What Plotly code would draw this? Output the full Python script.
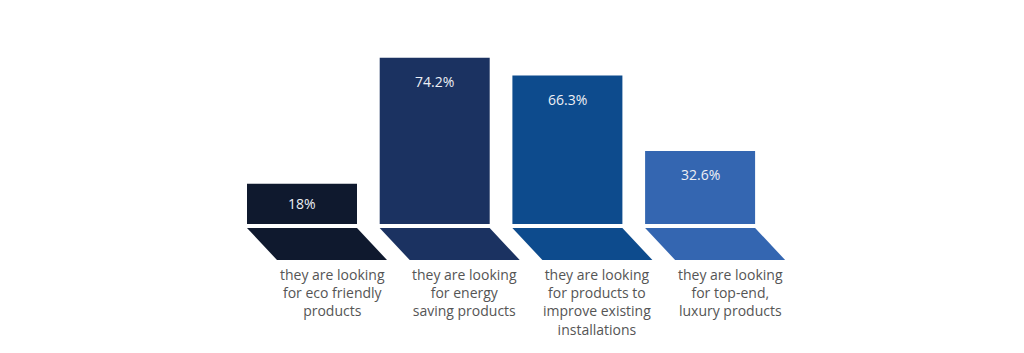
import plotly.graph_objects as go

categories = [
    "they are looking<br>for eco friendly<br>products",
    "they are looking<br>for energy<br>saving products",
    "they are looking<br>for products to<br>improve existing<br>installations",
    "they are looking<br>for top-end,<br>luxury products",
]
values = [18, 74.2, 66.3, 32.6]
value_labels = ["18%", "74.2%", "66.3%", "32.6%"]
colors = ["#0f192e", "#1b3261", "#0d4b8d", "#3466b1"]

W, H = 1024, 353
PX_PER_UNIT_X = 132.7
PX_PER_UNIT_Y = 2.24
FIRST_CENTER_PX = 302
BASE_PX = 224
BAR_W = 110 / PX_PER_UNIT_X
SHIFT = 30 / PX_PER_UNIT_X
SH_TOP = -4 / PX_PER_UNIT_Y
SH_BOT = -36 / PX_PER_UNIT_Y
FONT = "Open Sans, sans-serif"

x = list(range(len(values)))

fig = go.Figure()
fig.add_trace(go.Bar(
    x=x, y=values, width=BAR_W, marker=dict(color=colors, line=dict(width=0)),
    hoverinfo="skip", showlegend=False,
))

shapes = []
annotations = []
for i, (v, lab, vl, c) in enumerate(zip(values, categories, value_labels, colors)):
    x0, x1 = i - BAR_W / 2, i + BAR_W / 2
    path = (f"M {x0} {SH_TOP} L {x1} {SH_TOP} L {x1 + SHIFT} {SH_BOT} "
            f"L {x0 + SHIFT} {SH_BOT} Z")
    shapes.append(dict(type="path", path=path, xref="x", yref="y",
                       fillcolor=c, line=dict(width=0), layer="above"))
    ty = max(v / 2, v - 24 / PX_PER_UNIT_Y)
    annotations.append(dict(x=i, y=ty, xref="x", yref="y", text=vl,
                            showarrow=False,
                            font=dict(family=FONT, size=14, color="#eef0f5")))
    annotations.append(dict(x=i + SHIFT, y=SH_BOT - 3 / PX_PER_UNIT_Y, xref="x", yref="y",
                            text=lab, showarrow=False, yanchor="top", align="center",
                            font=dict(family=FONT, size=14, color="#555555")))

x_min = -FIRST_CENTER_PX / PX_PER_UNIT_X
x_max = (W - FIRST_CENTER_PX) / PX_PER_UNIT_X
y_max = BASE_PX / PX_PER_UNIT_Y
y_min = -(H - BASE_PX) / PX_PER_UNIT_Y

fig.update_layout(
    width=W, height=H, margin=dict(l=0, r=0, t=0, b=0),
    paper_bgcolor="white", plot_bgcolor="white",
    xaxis=dict(range=[x_min, x_max], visible=False, fixedrange=True),
    yaxis=dict(range=[y_min, y_max], visible=False, fixedrange=True),
    shapes=shapes, annotations=annotations,
)

fig.write_html("out.html", config={"displayModeBar": False})
